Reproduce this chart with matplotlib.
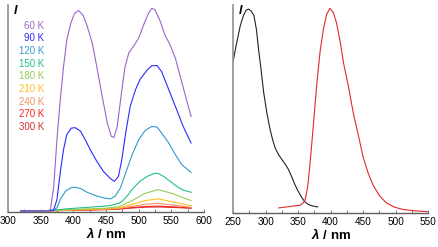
import numpy as np
import matplotlib
matplotlib.use('Agg')
import matplotlib.pyplot as plt
from matplotlib.ticker import MultipleLocator

plt.rcParams['font.family'] = ['Liberation Sans', 'DejaVu Sans']
plt.rcParams['mathtext.fontset'] = 'custom'
plt.rcParams['mathtext.bfit'] = 'Liberation Sans:bold:italic'

# ---- left panel: temperature-dependent emission ----
temps = ['60 K', '90 K', '120 K', '150 K', '180 K', '210 K', '240 K', '270 K', '300 K']
temp_colors = ['#9966cc', '#2b2bff', '#3399cc', '#22c08a', '#99cc55',
               '#ffc020', '#f59060', '#ff2020', '#cc3333']

wl_60 = [320, 360, 365, 370, 375, 380, 385, 390, 396, 402, 408, 415, 421, 429, 436, 444, 452, 458, 462,
         467, 473, 479, 485, 492, 500, 507, 515, 520, 525, 533, 540, 548, 556, 563, 571, 580]
spec_60 = [0.005, 0.006, 0.01, 0.12, 0.35, 0.54, 0.70, 0.83, 0.91, 0.96, 0.973, 0.95, 0.90, 0.815, 0.70,
           0.56, 0.43, 0.365, 0.36, 0.41, 0.56, 0.70, 0.77, 0.80, 0.84, 0.90, 0.96, 0.984, 0.976, 0.92,
           0.855, 0.807, 0.743, 0.66, 0.566, 0.461]

wl_90 = [320, 365, 370, 375, 380, 385, 390, 397, 403, 411, 418, 426, 436, 446, 457, 463, 469, 474, 480,
         487, 495, 502, 513, 520, 528, 535, 543, 551, 558, 568, 580]
spec_90 = [0.005, 0.006, 0.01, 0.06, 0.19, 0.30, 0.373, 0.405, 0.407, 0.39, 0.35, 0.30, 0.244, 0.196,
           0.16, 0.148, 0.172, 0.25, 0.38, 0.51, 0.59, 0.64, 0.686, 0.706, 0.707, 0.678, 0.614, 0.55,
           0.494, 0.413, 0.333]

wl_120 = [320, 365, 370, 375, 380, 388, 396, 402, 411, 421, 434, 446, 457, 464, 472, 480, 490, 500, 510,
          520, 528, 535, 546, 556, 566, 580]
spec_120 = [0.005, 0.006, 0.01, 0.02, 0.06, 0.10, 0.116, 0.12, 0.113, 0.095, 0.079, 0.068, 0.063, 0.076,
            0.116, 0.188, 0.277, 0.349, 0.394, 0.413, 0.41, 0.381, 0.333, 0.277, 0.228, 0.191]

wl_150 = [320, 360, 370, 390, 430, 455, 470, 477, 482, 492, 502, 513, 523, 528, 538, 548, 558, 568, 580]
spec_150 = [0.004, 0.005, 0.008, 0.015, 0.024, 0.03, 0.042, 0.058, 0.076, 0.116, 0.148, 0.172, 0.185,
            0.188, 0.172, 0.148, 0.124, 0.105, 0.095]

wl_low = [320, 360, 370, 400, 450, 470, 490, 510, 530, 550, 580]
spec_180 = [0.004, 0.005, 0.008, 0.012, 0.018, 0.025, 0.055, 0.090, 0.108, 0.090, 0.055]
spec_210 = [0.004, 0.005, 0.007, 0.010, 0.015, 0.020, 0.037, 0.055, 0.063, 0.050, 0.030]
spec_240 = [0.004, 0.005, 0.006, 0.009, 0.013, 0.017, 0.027, 0.037, 0.041, 0.034, 0.022]
spec_270 = [0.004, 0.005, 0.006, 0.008, 0.012, 0.015, 0.021, 0.026, 0.028, 0.025, 0.019]
spec_300 = [0.004, 0.005, 0.006, 0.008, 0.011, 0.014, 0.019, 0.023, 0.024, 0.022, 0.018]

series = [(wl_60, spec_60), (wl_90, spec_90), (wl_120, spec_120), (wl_150, spec_150),
          (wl_low, spec_180), (wl_low, spec_210), (wl_low, spec_240), (wl_low, spec_270),
          (wl_low, spec_300)]

# ---- right panel: excitation (black) and emission (red) ----
exc_wl = [250, 255, 261, 266, 270, 274, 278, 282, 286, 289, 293, 297, 302, 307, 311, 315, 320, 325,
          330, 335, 340, 345, 350, 356, 361, 366, 373, 380]
exc_int = [0.73, 0.81, 0.90, 0.95, 0.975, 0.98, 0.97, 0.95, 0.88, 0.79, 0.69, 0.58, 0.48, 0.40, 0.35,
           0.31, 0.28, 0.257, 0.235, 0.21, 0.175, 0.137, 0.105, 0.072, 0.052, 0.04, 0.033, 0.029]
em_wl = [320, 335, 345, 353, 358, 361, 365, 368, 371, 374, 379, 384, 389, 394, 399, 404, 409, 415,
         420, 428, 435, 443, 450, 458, 466, 476, 486, 498, 512, 530, 550]
em_int = [0.024, 0.030, 0.034, 0.037, 0.048, 0.064, 0.13, 0.225, 0.33, 0.44, 0.627, 0.78, 0.884, 0.955,
          0.984, 0.965, 0.916, 0.82, 0.72, 0.60, 0.48, 0.37, 0.27, 0.19, 0.13, 0.08, 0.048, 0.028,
          0.016, 0.010, 0.006]

fig = plt.figure(figsize=(4.39, 2.47), dpi=100)
ax1 = fig.add_axes([0.018, 0.142, 0.447, 0.838])
ax2 = fig.add_axes([0.531, 0.138, 0.444, 0.842])

for ax in (ax1, ax2):
    for side in ('top', 'right'):
        ax.spines[side].set_visible(False)
    ax.spines['left'].set_color('#909090')
    ax.spines['bottom'].set_color('#606060')
    ax.spines['left'].set_linewidth(1.2)
    ax.spines['bottom'].set_linewidth(1.0)
    ax.set_yticks([])
    ax.set_ylim(0, 1.0)
    ax.xaxis.set_major_locator(MultipleLocator(50))
    ax.xaxis.set_minor_locator(MultipleLocator(25))
    ax.tick_params(axis='x', which='both', direction='in', length=2.5, width=0.6,
                   color='#606060', labelsize=7.2, pad=3)
    ax.set_xlabel(r'$\mathbfit{\lambda}$ / nm', fontsize=9.5, fontweight='bold', labelpad=0)
    ax.text(0.03, 1.0, 'I', transform=ax.transAxes, fontsize=9, fontweight='bold',
            fontstyle='italic', ha='left', va='top')

for (x, y), col in zip(series[::-1], temp_colors[::-1]):
    ax1.plot(x, y, color=col, lw=0.8)
ax1.set_xlim(300, 600)

for i, (lab, col) in enumerate(zip(temps, temp_colors)):
    ax1.text(0.184, 0.899 - i * 0.061, lab, transform=ax1.transAxes, color=col,
             fontsize=7, ha='right', va='center')

ax2.plot(exc_wl, exc_int, color='#222222', lw=0.8)
ax2.plot(em_wl, em_int, color='#e02a2a', lw=0.8)
ax2.set_xlim(250, 550)

fig.savefig('out.png', dpi=100)
